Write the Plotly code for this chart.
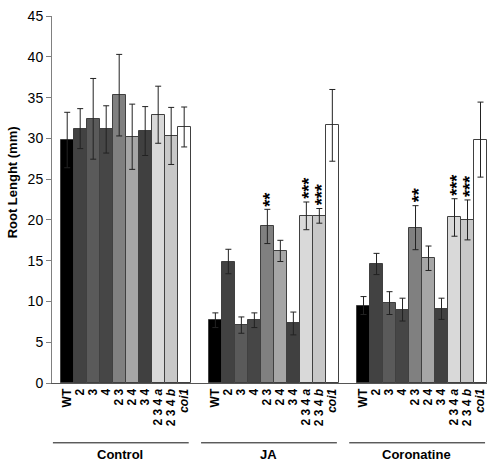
import plotly.graph_objects as go

categories = ["WT", "2", "3", "4", "2 3", "2 4", "3 4", "2 3 4 <i>a</i>", "2 3 4 <i>b</i>", "<i>coi1</i>"]
groups = ["Control", "JA", "Coronatine"]
control_vals = [29.8, 31.2, 32.4, 31.1, 35.3, 30.2, 30.9, 32.9, 30.3, 31.4]
control_err = [3.4, 2.45, 4.95, 2.9, 5.0, 4.0, 3.0, 3.5, 3.5, 2.45]
ja_vals = [7.7, 14.9, 7.1, 7.7, 19.2, 16.2, 7.3, 20.5, 20.5, 31.6]
ja_err = [0.9, 1.5, 1.0, 0.9, 2.1, 1.3, 1.4, 1.7, 0.9, 4.4]
cor_vals = [9.5, 14.6, 9.8, 9.0, 19.05, 15.3, 9.1, 20.3, 20.0, 29.85]
cor_err = [1.1, 1.3, 1.4, 1.4, 2.7, 1.5, 1.3, 2.3, 2.45, 4.6]
ja_sig = ["", "", "", "", "**", "", "", "***", "***", ""]
cor_sig = ["", "", "", "", "**", "", "", "***", "***", ""]
bar_colors = ["#000000", "#424242", "#5a5a5a", "#464646", "#808080", "#a6a6a6", "#404040", "#d9d9d9", "#c8c8c8", "#ffffff"]

group_vals = [control_vals, ja_vals, cor_vals]
group_errs = [control_err, ja_err, cor_err]
group_sigs = [[""] * 10, ja_sig, cor_sig]
group_offsets = [0.0, 11.4, 22.8]

FONT = "Arial, Liberation Sans"

fig = go.Figure()
xs_all, tt_all = [], []
for g, off in enumerate(group_offsets):
    xs = [off + i for i in range(len(categories))]
    xs_all += xs
    tt_all += categories
    fig.add_trace(go.Bar(
        x=xs, y=group_vals[g], width=1.0,
        marker=dict(color=bar_colors, line=dict(color="#404040", width=1)),
        error_y=dict(type="data", array=group_errs[g], visible=True,
                     color="#222222", thickness=1, width=3),
        showlegend=False, hoverinfo="skip",
    ))
    for i, s in enumerate(group_sigs[g]):
        if s:
            fig.add_annotation(x=xs[i], y=group_vals[g][i] + group_errs[g][i],
                               text="<b>" + s + "</b>", textangle=-90, showarrow=False,
                               yanchor="bottom", xanchor="center", yshift=1, xshift=3,
                               font=dict(family=FONT, size=18, color="#000"))
    # group underline and label
    fig.add_shape(type="line", xref="x", yref="paper",
                  x0=off - 1.1, x1=off + 9.35, y0=-0.163, y1=-0.163,
                  line=dict(color="#111", width=1))
    fig.add_annotation(x=off + 4.1, y=-0.196, xref="x", yref="paper",
                       text="<b>" + groups[g] + "</b>", showarrow=False,
                       yanchor="middle", xanchor="center",
                       font=dict(family=FONT, size=13, color="#000"))

fig.add_annotation(x=(12 - 52) / 435, y=(383 - 178) / 375, xref="paper", yref="paper",
                   text="<b>Root Lenght (mm)</b>",
                   textangle=-90, showarrow=False, xanchor="center", yanchor="middle",
                   font=dict(family=FONT, size=13, color="#000"))

fig.update_layout(
    width=498, height=464,
    margin=dict(l=52, r=11, t=8, b=81),
    plot_bgcolor="white", paper_bgcolor="white",
    bargap=0, barmode="overlay",
    font=dict(family=FONT, color="#000"),
)
fig.update_xaxes(range=[-1.17, 32.3], tickmode="array", tickvals=xs_all, ticktext=tt_all,
                 tickangle=-90, ticks="", showline=True, linecolor="#555", linewidth=1,
                 showgrid=False, zeroline=False,
                 tickfont=dict(family=FONT, size=12, weight="bold", color="#000"))
fig.update_yaxes(range=[0, 45.01], tickmode="array", tickvals=[0, 5, 10, 15, 20, 25, 30, 35, 40, 45],
                 ticks="outside", ticklen=5, tickcolor="#808080", ticklabeloverflow="allow",
                 showline=True, linecolor="#808080", linewidth=1, showgrid=False, zeroline=False,
                 tickfont=dict(family=FONT, size=14, color="#000"))

fig.write_html("out.html", config={"displayModeBar": False},
               post_script="document.body.style.margin='0';")
